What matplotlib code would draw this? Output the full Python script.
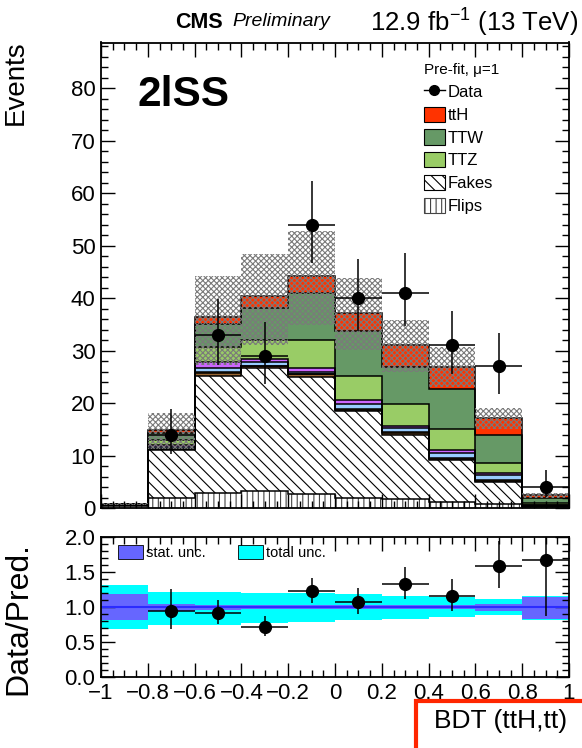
import numpy as np
import matplotlib
matplotlib.use("Agg")
import matplotlib.pyplot as plt
from matplotlib.patches import Patch, Rectangle
from matplotlib.lines import Line2D
from matplotlib.ticker import MultipleLocator, FuncFormatter

plt.rcParams['font.family'] = ['Liberation Sans', 'DejaVu Sans']
plt.rcParams['mathtext.fontset'] = 'custom'
plt.rcParams['mathtext.rm'] = 'Liberation Sans'
plt.rcParams['hatch.linewidth'] = 0.8

# binning of the BDT (ttH,tt) output
BIN_EDGES = [-1.0, -0.8, -0.6, -0.4, -0.2, 0.0, 0.2, 0.4, 0.6, 0.8, 1.0]

# expected yields per bin (stack order: bottom -> top)
flips   = [0.30, 1.85, 2.90, 3.20, 2.60, 1.95, 1.65, 1.20, 0.75, 0.15]
fakes   = [0.35, 9.20, 22.30, 23.40, 22.40, 16.55, 12.35, 7.90, 4.25, 0.25]
rares   = [0.00, 0.10, 0.50, 0.40, 0.45, 0.15, 0.30, 0.25, 0.15, 0.05]
convs   = [0.00, 0.05, 0.15, 0.15, 0.10, 0.25, 0.10, 0.10, 0.10, 0.02]
ttgstar = [0.00, 0.35, 0.90, 0.60, 0.45, 1.00, 0.80, 1.00, 1.10, 0.10]
diboson = [0.00, 0.50, 1.00, 0.55, 0.60, 0.60, 0.50, 0.55, 0.35, 0.08]
ttz     = [0.02, 0.90, 3.00, 3.80, 5.40, 4.70, 4.05, 4.00, 1.80, 0.30]
ttw     = [0.05, 1.30, 4.25, 6.10, 9.00, 8.50, 7.15, 7.70, 5.40, 1.00]
tth     = [0.03, 0.65, 1.30, 2.20, 3.20, 3.50, 4.10, 4.20, 3.20, 0.45]

# observed events with asymmetric (Poisson) errors
data        = [0, 14, 33, 29, 54, 40, 41, 31, 27, 4]
data_err_lo = [0, 3.7, 5.7, 5.4, 7.3, 6.3, 6.4, 5.5, 5.2, 1.9]
data_err_hi = [0, 4.8, 6.8, 6.4, 8.4, 7.4, 7.5, 6.6, 6.3, 3.2]

# relative uncertainties on the prediction
tot_up  = [0.31, 0.22, 0.22, 0.20, 0.195, 0.18, 0.155, 0.14, 0.11, 0.155]
tot_dn  = [0.31, 0.25, 0.25, 0.23, 0.21, 0.19, 0.165, 0.14, 0.12, 0.18]
stat_up = [0.18, 0.05, 0.035, 0.035, 0.03, 0.03, 0.03, 0.035, 0.05, 0.15]
stat_dn = [0.19, 0.06, 0.04, 0.035, 0.03, 0.03, 0.03, 0.035, 0.055, 0.17]

edges = np.array(BIN_EDGES)
centers = 0.5 * (edges[1:] + edges[:-1])
halfw = 0.5 * (edges[1:] - edges[:-1])

# (values, facecolor, hatch, hatch colour)
layers = [
    (flips,   "white",   "|||",    "#444444"),
    (fakes,   "white",   "\\\\\\", "black"),
    (rares,   "#996633", None, None),
    (convs,   "#ff9900", None, None),
    (ttgstar, "#99ccff", None, None),
    (diboson, "#cc66ff", None, None),
    (ttz,     "#99cc66", None, None),
    (ttw,     "#669966", None, None),
    (tth,     "#ff3300", None, None),
]

fig = plt.figure(figsize=(5.82, 7.48), dpi=100)
ax = fig.add_axes([101 / 582, 1 - 508 / 748, 468 / 582, 465.5 / 748])
rax = fig.add_axes([101 / 582, 1 - 677 / 748, 468 / 582, 140 / 748])

# stacked prediction
bottom = np.zeros(len(centers))
tops = []
for vals, fc, hatch, hc in layers:
    top = bottom + np.array(vals)
    if hatch:
        ax.stairs(top, edges, baseline=bottom, fill=True, facecolor=fc,
                  edgecolor=hc, hatch=hatch, lw=0)
    else:
        ax.stairs(top, edges, baseline=bottom, fill=True, facecolor=fc, lw=0)
    tops.append(top)
    bottom = top
for top in tops:
    ax.stairs(top, edges, baseline=0, fill=False, color="black", lw=1.1)

total = bottom
ax.stairs(total * (1 + np.array(tot_up)), edges,
          baseline=total * (1 - np.array(tot_dn)), fill=True,
          facecolor="none", edgecolor="#7a7a7a", hatch="xxxxxx", lw=0)

data = np.array(data, dtype=float)
mask = data > 0
ax.errorbar(centers[mask], data[mask],
            yerr=[np.array(data_err_lo)[mask], np.array(data_err_hi)[mask]],
            xerr=halfw[mask], fmt="o", color="black", ms=8.5,
            elinewidth=1.1, capsize=0, zorder=5)

ax.set_xlim(-1, 1)
ax.set_ylim(0, 88.7)
ax.xaxis.set_major_locator(MultipleLocator(0.2))
ax.xaxis.set_minor_locator(MultipleLocator(0.05))
ax.yaxis.set_major_locator(MultipleLocator(10))
ax.yaxis.set_minor_locator(MultipleLocator(2))
ax.tick_params(which="both", direction="in", top=True, right=True,
               labelbottom=False, width=1)
ax.tick_params(which="major", length=10, labelsize=16, pad=4)
ax.tick_params(which="minor", length=5)
for s in ax.spines.values():
    s.set_linewidth(1.3)
ax.set_ylabel("Events", fontsize=20, loc="top")
ax.yaxis.set_label_coords(-0.155, 1.005)

ax.text(0.077, 0.887, "2lSS", transform=ax.transAxes, fontsize=30.5,
        fontweight="bold", va="center", ha="left")

handles = [
    Line2D([], [], color="black", marker="o", ms=7, lw=1),
    Patch(facecolor="#ff3300", edgecolor="black", lw=0.8),
    Patch(facecolor="#669966", edgecolor="black", lw=0.8),
    Patch(facecolor="#99cc66", edgecolor="black", lw=0.8),
    Patch(facecolor="white", edgecolor="black", hatch="\\\\\\", lw=0.8),
    Patch(facecolor="white", edgecolor="#444444", hatch="|||", lw=0.8),
]
labels = ["Data", "ttH", "TTW", "TTZ", "Fakes", "Flips"]
leg = ax.legend(handles, labels, loc="upper left", bbox_to_anchor=(0.69, 0.955),
                frameon=False, fontsize=12, title="Pre-fit, μ=1",
                title_fontsize=11, alignment="left", handlelength=1.25,
                handleheight=1.05, handletextpad=0.2, labelspacing=0.38,
                borderaxespad=0, borderpad=0)

# ratio panel
ratio = data / total
rax.stairs(1 + np.array(tot_up), edges, baseline=1 - np.array(tot_dn),
           fill=True, color="#00ffff", lw=0)
rax.stairs(1 + np.array(stat_up), edges, baseline=1 - np.array(stat_dn),
           fill=True, color="#6666ff", lw=0)
rax.axhline(1.0, color="#2b2bff", lw=1.5)
rax.errorbar(centers[mask], ratio[mask],
             yerr=[np.array(data_err_lo)[mask] / total[mask],
                   np.array(data_err_hi)[mask] / total[mask]],
             xerr=halfw[mask], fmt="o", color="black", ms=8.5,
             elinewidth=1.1, capsize=0, zorder=5, clip_on=True)
rax.set_xlim(-1, 1)
rax.set_ylim(0, 2)
rax.xaxis.set_major_locator(MultipleLocator(0.2))
rax.xaxis.set_minor_locator(MultipleLocator(0.05))
rax.yaxis.set_major_locator(MultipleLocator(0.5))
rax.yaxis.set_minor_locator(MultipleLocator(0.1))
rax.xaxis.set_major_formatter(
    FuncFormatter(lambda v, p: f"{round(v, 2) + 0:g}".replace("-", "\u2212")))
rax.yaxis.set_major_formatter(FuncFormatter(lambda v, p: f"{v:.1f}"))
rax.tick_params(which="both", direction="in", top=True, right=True, width=1)
rax.tick_params(which="major", length=10, labelsize=16, pad=4)
rax.tick_params(which="minor", length=5)
for s in rax.spines.values():
    s.set_linewidth(1.3)
rax.set_ylabel("Data/Pred.", fontsize=23)
rax.yaxis.set_label_coords(-0.145, 0.42)
rax.set_xlabel("BDT (ttH,tt)", fontsize=19, loc="right")
rax.xaxis.label.set_va("center")
rax.xaxis.set_label_coords(0.995, -0.314)

rleg = rax.legend([Patch(facecolor="#6666ff", edgecolor="black", lw=0.6),
                   Patch(facecolor="#00ffff", edgecolor="black", lw=0.6)],
                  ["stat. unc.", "total unc."], loc="upper left",
                  bbox_to_anchor=(0.036, 0.94), ncol=2, frameon=False,
                  fontsize=10.5, handlelength=1.7, handleheight=1.1,
                  handletextpad=0.25, columnspacing=2.2, borderaxespad=0,
                  borderpad=0)

# header
fig.text(175 / 582, 1 - 22 / 748, "CMS", fontsize=15.5, fontweight="bold",
         va="center", ha="left")
fig.text(232 / 582, 1 - 22 / 748, "Preliminary", fontsize=14,
         style="italic", va="center", ha="left")
fig.text(578 / 582, 1 - 22 / 748, r"12.9 fb$^{-1}$ (13 TeV)", fontsize=18.5,
         va="center", ha="right")

# red highlight box round the axis title
fig.add_artist(Rectangle((416 / 582, -0.1), 0.5, 0.1 + 1 - 701 / 748,
                         transform=fig.transFigure, fill=False,
                         edgecolor="#ff2600", lw=3, clip_on=False))

fig.savefig("out.png", dpi=100)
